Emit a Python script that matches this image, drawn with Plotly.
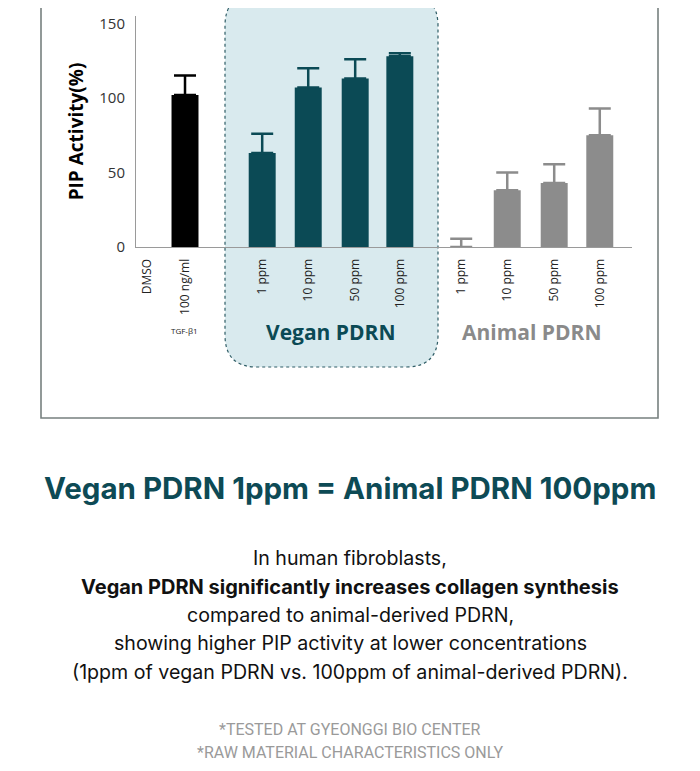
import plotly.graph_objects as go

W, H = 700, 771
OFF = 8  # default page body margin

# ---- data ----
categories = ["DMSO", "100 ng/ml", "1 ppm", "10 ppm", "50 ppm", "100 ppm",
              "1 ppm", "10 ppm", "50 ppm", "100 ppm"]
x_pos = [-0.82, 0.0, 1.66, 2.65, 3.66, 4.62, 5.94, 6.93, 7.94, 8.92]
groups = ["ctrl", "ctrl", "vegan", "vegan", "vegan", "vegan",
          "animal", "animal", "animal", "animal"]
values = [0, 102, 63, 107, 113, 128, 0, 38, 43, 75]
errors = [None, 13, 13, 13, 13, 2, 5.5, 12, 12.5, 18]
y_ticks = [0, 50, 100, 150]

colors = {"ctrl": "#000000", "vegan": "#0b4a55", "animal": "#8c8c8c"}

def px_x(p):
    return (p - OFF) / W

def px_y(p):
    return 1 - (p - OFF) / H

fig = go.Figure()
for g in ["ctrl", "vegan", "animal"]:
    for has_err in (True, False):
        idx = [i for i, gg in enumerate(groups)
               if gg == g and ((errors[i] is not None) == has_err)]
        if not idx:
            continue
        err = dict(type="data", symmetric=False,
                   array=[errors[i] for i in idx],
                   arrayminus=[0] * len(idx),
                   color=colors[g], thickness=2.5, width=11) if has_err else dict(visible=False)
        fig.add_trace(go.Bar(
            x=[x_pos[i] for i in idx],
            y=[values[i] for i in idx],
            width=0.58,
            marker=dict(color=colors[g], line=dict(width=0)),
            error_y=err,
            showlegend=False,
            hoverinfo="skip",
        ))

fig.update_layout(
    width=W, height=H,
    margin=dict(l=0, r=0, t=0, b=0, autoexpand=False),
    paper_bgcolor="white", plot_bgcolor="rgba(0,0,0,0)",
    font=dict(family="Open Sans", color="#333"),
    xaxis=dict(domain=[px_x(136), px_x(632)], range=[-1.054, 9.613],
               tickmode="array", tickvals=x_pos, ticktext=categories,
               tickangle=-90, tickfont=dict(size=12, color="#222"),
               showline=True, linecolor="#9a9a9a", linewidth=1,
               showgrid=False, zeroline=False, ticks="", ticklabelstandoff=6,
               fixedrange=True),
    yaxis=dict(domain=[px_y(247), px_y(16)], range=[0, 155],
               tickvals=y_ticks, tickfont=dict(size=15, color="#333"),
               showline=True, linecolor="#9a9a9a", linewidth=1,
               showgrid=False, zeroline=False, ticks="", ticklabelstandoff=7,
               title=dict(text="<b>PIP Activity(%)</b>", standoff=10,
                          font=dict(size=19, color="#000")),
               fixedrange=True),
)

# decorative frame and highlight box
x0, x1 = px_x(225), px_x(438)
yt, yb = px_y(-6), px_y(367)
rx, ry = 32 / W, 32 / H
path = (f"M {x0+rx},{yt} L {x1-rx},{yt} Q {x1},{yt} {x1},{yt-ry} "
        f"L {x1},{yb+ry} Q {x1},{yb} {x1-rx},{yb} L {x0+rx},{yb} "
        f"Q {x0},{yb} {x0},{yb+ry} L {x0},{yt-ry} Q {x0},{yt} {x0+rx},{yt} Z")
fig.add_shape(type="path", path=path, xref="paper", yref="paper",
              fillcolor="#d9eaee", line=dict(color="#2f5d66", width=1.2, dash="dot"),
              layer="below")
fig.add_shape(type="rect", xref="paper", yref="paper",
              x0=px_x(41), x1=px_x(658), y0=px_y(418), y1=px_y(-10),
              line=dict(color="#77807f", width=1.6), fillcolor="rgba(0,0,0,0)",
              layer="below")

def ann(text, x, y, size, color, family="Open Sans", xanchor="center"):
    fig.add_annotation(text=text, x=px_x(x), y=px_y(y), xref="paper", yref="paper",
                       showarrow=False, xanchor=xanchor, yanchor="middle",
                       font=dict(size=size, color=color, family=family))

ann("TGF-β1", 185, 330, 8, "#222")
ann("<b>Vegan PDRN</b>", 331, 332, 21, "#0b4a55")
ann("<b>Animal PDRN</b>", 532, 332, 21, "#8a8a8a")

ann("<b>Vegan PDRN 1ppm = Animal PDRN 100ppm</b>", 350, 488, 29.5, "#0d4a55", family="Inter")

body = [
    ("In human fibroblasts,", 558, False),
    ("Vegan PDRN significantly increases collagen synthesis", 587, True),
    ("compared to animal-derived PDRN,", 615, False),
    ("showing higher PIP activity at lower concentrations", 643, False),
    ("(1ppm of vegan PDRN vs. 100ppm of animal-derived PDRN).", 672, False),
]
for t, y, b in body:
    if b:
        ann(f"<b>{t}</b>", 350, y, 20, "#111", family="Inter")
    else:
        ann(t, 350, y, 19.6, "#111", family="Inter")

ann("*TESTED AT GYEONGGI BIO CENTER", 350, 729, 16, "#9a9a9a", family="Roboto")
ann("*RAW MATERIAL CHARACTERISTICS ONLY", 350, 752, 16, "#9a9a9a", family="Roboto")

fig.write_html("out.html")
